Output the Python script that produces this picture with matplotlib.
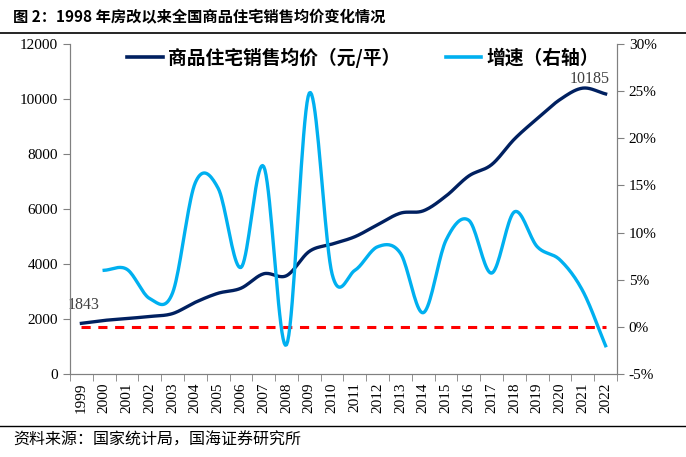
import numpy as np
import matplotlib.pyplot as plt
from matplotlib.lines import Line2D

years = [str(y) for y in range(1999, 2023)]
price = [1843, 1948, 2017, 2092, 2197, 2608, 2937, 3119, 3645, 3576, 4459, 4725,
         4993, 5430, 5850, 5933, 6473, 7203, 7614, 8544, 9287, 9980, 10396, 10185]
growth = [6.0, 6.1, 3.0, 3.6, 15.3, 14.7, 6.3, 17.0, -1.9, 24.8, 5.6, 6.0,
          8.5, 7.8, 1.5, 9.2, 11.3, 5.7, 12.2, 8.5, 7.1, 3.8, -2.0]

CJK = ['Noto Sans CJK SC', 'DejaVu Sans']
SERIF = ['Liberation Serif', 'DejaVu Serif']


def smooth(x, y, n=20):
    # Catmull-Rom style smoothing like Excel's smoothed lines
    x = np.asarray(x, float)
    y = np.asarray(y, float)
    px = np.concatenate([[2 * x[0] - x[1]], x, [2 * x[-1] - x[-2]]])
    py = np.concatenate([[2 * y[0] - y[1]], y, [2 * y[-1] - y[-2]]])
    xs, ys = [], []
    t = np.linspace(0, 1, n, endpoint=False)
    for i in range(1, len(px) - 2):
        for arr, out in ((px, xs), (py, ys)):
            p0, p1, p2, p3 = arr[i - 1], arr[i], arr[i + 1], arr[i + 2]
            out.extend(0.5 * ((2 * p1) + (-p0 + p2) * t
                              + (2 * p0 - 5 * p1 + 4 * p2 - p3) * t ** 2
                              + (-p0 + 3 * p1 - 3 * p2 + p3) * t ** 3))
    xs.append(x[-1])
    ys.append(y[-1])
    return np.array(xs), np.array(ys)


fig = plt.figure(figsize=(6.86, 4.57), dpi=100)
ax = fig.add_axes([70 / 686, 83 / 457, 547 / 686, 330 / 457])
ax2 = ax.twinx()

x = np.arange(len(years))
sx, sy = smooth(x, price)
ax.plot(sx, sy, color='#002060', lw=2.4, zorder=3)
gx, gy = smooth(x[1:], growth)
ax2.plot(gx, gy, color='#00B0F0', lw=2.4, zorder=2)
ax2.plot(x, np.zeros(len(x)), color='#FF0000', lw=2.2, ls=(0, (3, 2.5)), zorder=1)

ax.set_xlim(-0.5, len(years) - 0.5)
ax.set_ylim(0, 12000)
ax2.set_ylim(-5, 30)
ax.set_yticks(range(0, 12001, 2000))
ax2.set_yticks(range(-5, 31, 5))
ax2.set_yticklabels([f'{v}%' for v in range(-5, 31, 5)])

ax.set_xticks(x)
ax.set_xticklabels(years, rotation=90)
ax.set_xticks(np.arange(-0.5, len(years)), minor=True)
ax.tick_params(axis='x', which='major', length=0, pad=6)
ax.tick_params(axis='x', which='minor', length=5, color='#808080')

for a in (ax, ax2):
    a.spines['top'].set_visible(False)
    for s in ('left', 'right', 'bottom'):
        a.spines[s].set_color('#808080')
    a.tick_params(axis='y', length=5, color='#808080', labelsize=11)
    for lab in a.get_yticklabels() + a.get_xticklabels():
        lab.set_family(SERIF)
        lab.set_fontsize(11)

ax.annotate(str(price[0]), (x[0], price[0]), xytext=(-10, 10), textcoords='offset points',
            family=SERIF, fontsize=11.5, color='#404040')
ax.annotate(str(price[-1]), (x[-1], price[-1]), xytext=(-26, 8), textcoords='offset points',
            family=SERIF, fontsize=11.5, color='#404040')

handles = [Line2D([], [], color='#002060', lw=2.6), Line2D([], [], color='#00B0F0', lw=2.6)]
leg = ax.legend(handles, ['商品住宅销售均价（元/平）', '增速（右轴）'], ncol=2, frameon=False,
                loc='center', bbox_to_anchor=(0.536, 0.958), handlelength=1.9,
                handletextpad=0.3, columnspacing=2.4, borderpad=0,
                prop={'family': CJK, 'size': 13.5, 'weight': 'bold'})

fig.text(13 / 686, 1 - 17 / 457, '图 2：1998 年房改以来全国商品住宅销售均价变化情况', family=CJK,
         fontsize=11, weight='bold', va='center')
fig.add_artist(Line2D([0, 1], [1 - 33 / 457] * 2, color='black', lw=1.2))
fig.add_artist(Line2D([0, 1], [1 - 426 / 457] * 2, color='black', lw=1.0))
fig.text(13 / 686, 1 - 440 / 457, '资料来源：国家统计局，国海证券研究所', family=CJK,
         fontsize=11.5, va='center')

fig.savefig('out.png', dpi=100)
